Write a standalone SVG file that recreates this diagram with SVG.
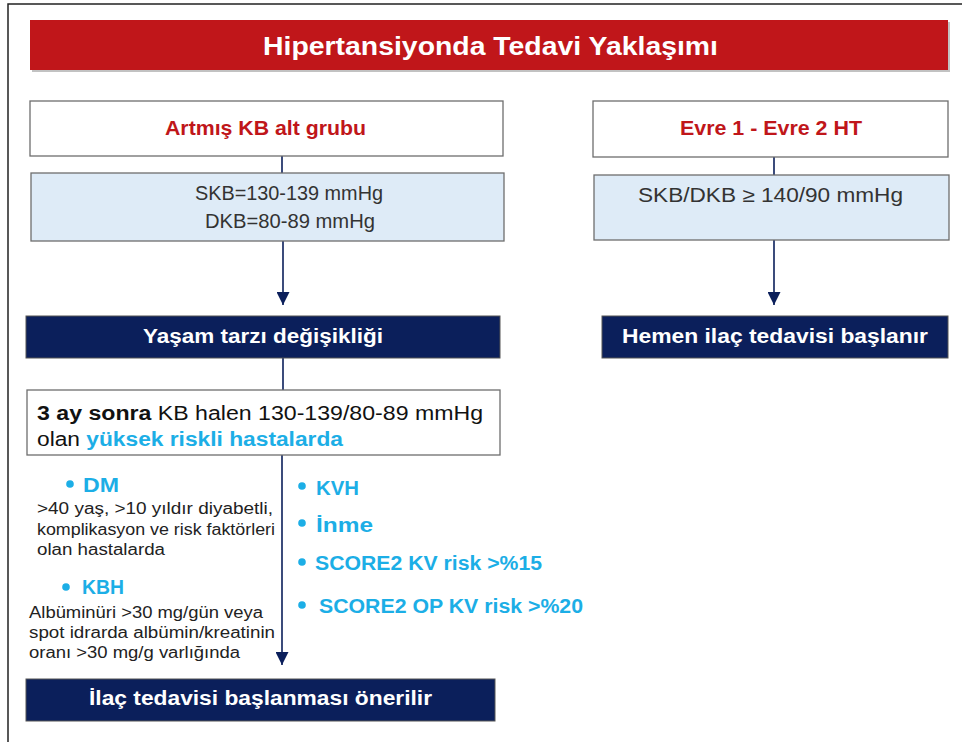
<svg xmlns="http://www.w3.org/2000/svg" width="962" height="742" viewBox="0 0 962 742">
<style>
  .t{font-family:"Liberation Sans",Arial,sans-serif}
  .b{font-weight:bold}
  .white{fill:#fff;stroke:#6e6e6e;stroke-width:1.3}
  .light{fill:#deebf7;stroke:#6e6e6e;stroke-width:1.3}
  .navy{fill:#0b1f5b;stroke:#555;stroke-width:1}
  .red{fill:#c0161a}
  .cyan{fill:#1caee6}
  .line{stroke:#0b1f5b;stroke-width:1.6;fill:none}
</style>
<defs>
  <marker id="arrBig" viewBox="0 0 10 10" refX="10" refY="5" markerWidth="13" markerHeight="13" markerUnits="userSpaceOnUse" orient="auto">
    <path d="M0,0 L10,5 L0,10 z" fill="#0b1f5b"/>
  </marker>
</defs>
<rect width="962" height="742" fill="#fff"/>
<path d="M8,742 L8,4 L962,4" fill="none" stroke="#222" stroke-width="1.5"/>

<g id="title">
  <rect x="32" y="22" width="918" height="50" fill="#9a9a9a" opacity="0.6"/>
  <rect x="30" y="20" width="918" height="50" class="red"/>
  <text x="263" y="55" textLength="455" lengthAdjust="spacingAndGlyphs" class="t b" font-size="26" fill="#fff">Hipertansiyonda Tedavi Yaklaşımı</text>
</g>

<g id="connectors">
  <line x1="282" y1="156" x2="282" y2="173" class="line"/>
  <line x1="283" y1="241" x2="283" y2="305" class="line" marker-end="url(#arrBig)"/>
  <line x1="283" y1="358" x2="283" y2="390" class="line"/>
  <line x1="282" y1="455" x2="282" y2="665" class="line" marker-end="url(#arrBig)"/>
  <line x1="774" y1="157" x2="774" y2="175" class="line"/>
  <line x1="774" y1="240" x2="774" y2="305" class="line" marker-end="url(#arrBig)"/>
</g>

<g id="artmis">
  <rect x="30" y="101" width="473" height="55" class="white"/>
  <text x="165" y="135" textLength="201" lengthAdjust="spacingAndGlyphs" class="t b red" font-size="21">Artmış KB alt grubu</text>
</g>

<g id="skb-left">
  <rect x="31" y="173" width="473" height="68" class="light"/>
  <text x="195" y="200" textLength="188" lengthAdjust="spacingAndGlyphs" class="t" font-size="20" fill="#333">SKB=130-139 mmHg</text>
  <text x="205" y="228" textLength="170" lengthAdjust="spacingAndGlyphs" class="t" font-size="20" fill="#333">DKB=80-89 mmHg</text>
</g>

<g id="yasam">
  <rect x="26" y="316" width="474" height="42" class="navy"/>
  <text x="143" y="343" textLength="240" lengthAdjust="spacingAndGlyphs" class="t b" font-size="20" fill="#fff">Yaşam tarzı değişikliği</text>
</g>

<g id="ucay">
  <rect x="27" y="390" width="473" height="65" class="white"/>
  <text x="37" y="420" textLength="446" lengthAdjust="spacingAndGlyphs" class="t" font-size="20" fill="#111"><tspan font-weight="bold">3 ay sonra</tspan> KB halen 130-139/80-89 mmHg</text>
  <text x="37" y="446" textLength="306" lengthAdjust="spacingAndGlyphs" class="t" font-size="20" fill="#111">olan <tspan font-weight="bold" fill="#1caee6">yüksek riskli hastalarda</tspan></text>
</g>

<g id="left-criteria">
  <circle cx="70" cy="484" r="3.8" class="cyan"/>
  <text x="83" y="492" textLength="36" lengthAdjust="spacingAndGlyphs" class="t b cyan" font-size="21">DM</text>
  <text x="37" y="514" textLength="236" lengthAdjust="spacingAndGlyphs" class="t" font-size="16" fill="#222">&gt;40 yaş, &gt;10 yıldır diyabetli,</text>
  <text x="37" y="535" textLength="238" lengthAdjust="spacingAndGlyphs" class="t" font-size="16" fill="#222">komplikasyon ve risk faktörleri</text>
  <text x="37" y="555" textLength="128" lengthAdjust="spacingAndGlyphs" class="t" font-size="16" fill="#222">olan hastalarda</text>
  <circle cx="66" cy="587" r="3.8" class="cyan"/>
  <text x="82" y="594" textLength="42" lengthAdjust="spacingAndGlyphs" class="t b cyan" font-size="21">KBH</text>
  <text x="29" y="618" textLength="234" lengthAdjust="spacingAndGlyphs" class="t" font-size="16" fill="#222">Albüminüri &gt;30 mg/gün veya</text>
  <text x="29" y="638" textLength="246" lengthAdjust="spacingAndGlyphs" class="t" font-size="16" fill="#222">spot idrarda albümin/kreatinin</text>
  <text x="29" y="658" textLength="211" lengthAdjust="spacingAndGlyphs" class="t" font-size="16" fill="#222">oranı &gt;30 mg/g varlığında</text>
</g>

<g id="right-criteria">
  <circle cx="302" cy="486" r="3.8" class="cyan"/>
  <text x="316" y="495" textLength="43" lengthAdjust="spacingAndGlyphs" class="t b cyan" font-size="20">KVH</text>
  <circle cx="302" cy="523" r="3.8" class="cyan"/>
  <text x="316" y="532" textLength="57" lengthAdjust="spacingAndGlyphs" class="t b cyan" font-size="20">İnme</text>
  <circle cx="302" cy="562" r="3.8" class="cyan"/>
  <text x="315" y="570" textLength="227" lengthAdjust="spacingAndGlyphs" class="t b cyan" font-size="20">SCORE2 KV risk &gt;%15</text>
  <circle cx="302" cy="605" r="3.8" class="cyan"/>
  <text x="319" y="613" textLength="264" lengthAdjust="spacingAndGlyphs" class="t b cyan" font-size="20">SCORE2 OP KV risk &gt;%20</text>
</g>

<g id="ilac">
  <rect x="26" y="679" width="469" height="42" class="navy"/>
  <text x="89" y="705" textLength="343" lengthAdjust="spacingAndGlyphs" class="t b" font-size="20" fill="#fff">İlaç tedavisi başlanması önerilir</text>
</g>

<g id="evre">
  <rect x="593" y="101" width="355" height="56" class="white"/>
  <text x="680" y="135" textLength="182" lengthAdjust="spacingAndGlyphs" class="t b red" font-size="21">Evre 1 - Evre 2 HT</text>
</g>

<g id="skb-right">
  <rect x="594" y="175" width="355" height="65" class="light"/>
  <text x="638" y="202" textLength="265" lengthAdjust="spacingAndGlyphs" class="t" font-size="20" fill="#333">SKB/DKB ≥ 140/90 mmHg</text>
</g>

<g id="hemen">
  <rect x="602" y="316" width="346" height="42" class="navy"/>
  <text x="622" y="343" textLength="306" lengthAdjust="spacingAndGlyphs" class="t b" font-size="20" fill="#fff">Hemen ilaç tedavisi başlanır</text>
</g>
</svg>
